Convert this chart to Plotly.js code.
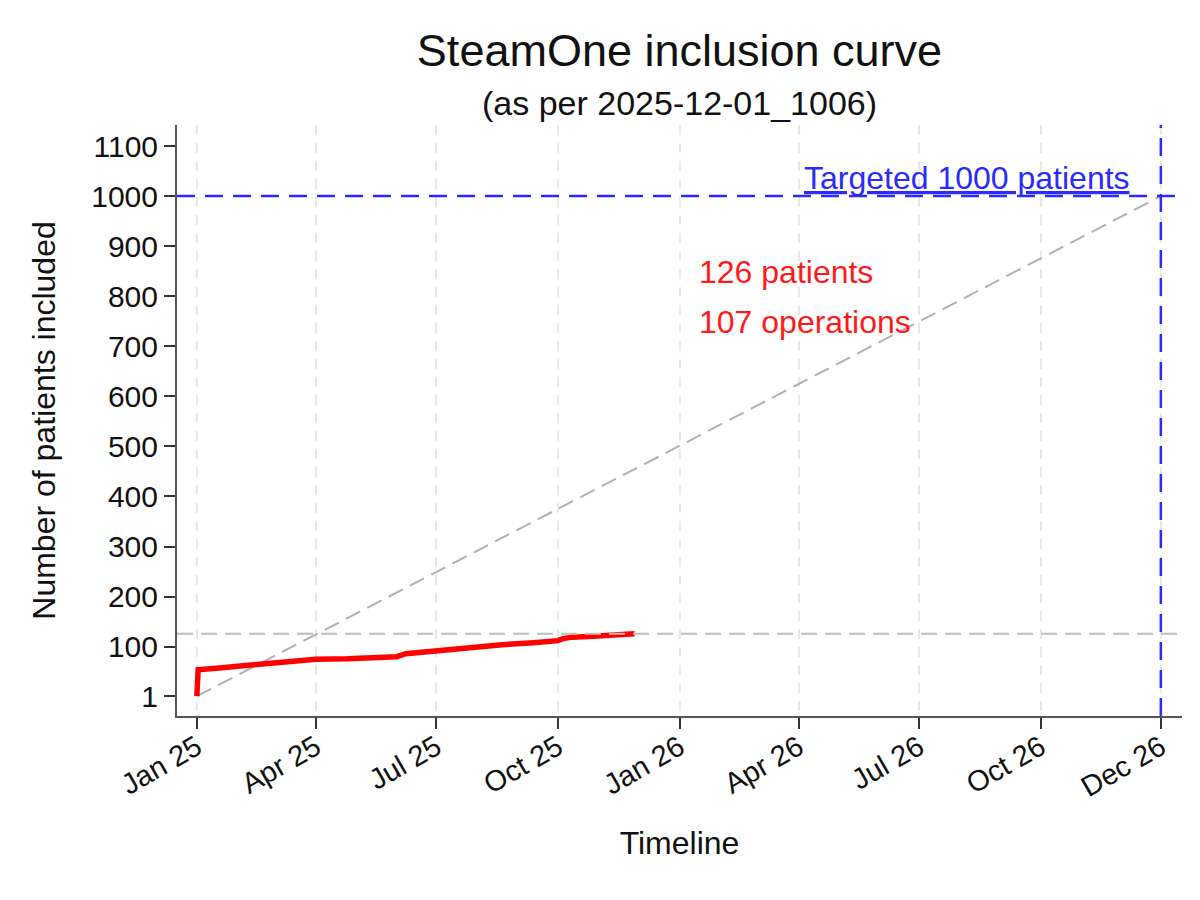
<!DOCTYPE html>
<html>
<head>
<meta charset="utf-8">
<script src="https://cdn.plot.ly/plotly-3.0.1.min.js"></script>
<style>
  body { margin: 0; background: #fff; }
  #chart { width: 1200px; height: 900px; }
</style>
</head>
<body>
<div id="chart"></div>
<script>
// cumulative inclusions
const inclusionDates = [
  '2025-01-01', '2025-01-02', '2025-01-20', '2025-02-11', '2025-03-05',
  '2025-03-18', '2025-04-01', '2025-04-25', '2025-05-15', '2025-06-01',
  '2025-06-08', '2025-06-20', '2025-06-30', '2025-07-15', '2025-07-30',
  '2025-08-20', '2025-09-13', '2025-10-01', '2025-10-05', '2025-10-12',
  '2025-10-28', '2025-11-12', '2025-11-28'
];
const inclusionCounts = [
  1, 54, 58, 64, 68,
  71, 75, 76, 77, 80,
  86, 89, 92, 97, 101,
  104, 108, 112, 116, 119,
  121, 123, 126
];

// target line: 1000 patients by end of 2026
const targetDates = ['2025-01-01', '2026-12-31'];
const targetCounts = [1, 1000];

const targetPatients = 1000;
const currentPatients = 126;
const operations = 107;
const endDate = '2026-12-31';

const xTickVals = ['2025-01-01', '2025-04-01', '2025-07-01', '2025-10-01', '2026-01-01',
                   '2026-04-01', '2026-07-01', '2026-10-01', '2026-12-31'];
const xTickText = ['Jan 25', 'Apr 25', 'Jul 25', 'Oct 25', 'Jan 26',
                   'Apr 26', 'Jul 26', 'Oct 26', 'Dec 26'];
const yTickVals = [1, 100, 200, 300, 400, 500, 600, 700, 800, 900, 1000, 1100];

const fontFamily = 'Liberation Sans, Arial, sans-serif';

const data = [
  {
    x: targetDates,
    y: targetCounts,
    type: 'scatter',
    mode: 'lines',
    line: { color: '#b0b0b0', width: 2, dash: '16px,8px' },
    hoverinfo: 'skip'
  },
  {
    x: inclusionDates,
    y: inclusionCounts,
    type: 'scatter',
    mode: 'lines',
    line: { color: '#ff0000', width: 5.5 },
    name: 'patients'
  }
];

const layout = {
  width: 1200,
  height: 900,
  paper_bgcolor: '#ffffff',
  plot_bgcolor: '#ffffff',
  showlegend: false,
  font: { family: fontFamily, color: '#111' },
  margin: { l: 177, r: 18, t: 125, b: 184 },
  title: {
    text: 'SteamOne inclusion curve',
    font: { size: 45, color: '#111' },
    x: 0.5, xref: 'paper',
    y: 0.944, yref: 'container', yanchor: 'middle'
  },
  xaxis: {
    type: 'date',
    range: ['2024-12-17', '2027-01-16'],
    tickvals: xTickVals,
    ticktext: xTickText,
    tickangle: -30,
    tickfont: { size: 29, color: '#111' },
    ticks: 'outside', ticklen: 11, tickwidth: 2, tickcolor: '#333',
    ticklabelstandoff: -10,
    showline: true, linecolor: '#555', linewidth: 2,
    showgrid: true, gridcolor: '#e8e8e8', gridwidth: 2, griddash: '10px,8px',
    zeroline: false,
    title: { text: 'Timeline', font: { size: 32, color: '#111' }, standoff: 30 }
  },
  yaxis: {
    range: [-38.5, 1142],
    tickvals: yTickVals,
    tickfont: { size: 30, color: '#111' },
    ticks: 'outside', ticklen: 11, tickwidth: 2, tickcolor: '#333',
    showline: true, linecolor: '#555', linewidth: 2,
    showgrid: false,
    zeroline: false,
    title: { text: 'Number of patients included', font: { size: 32, color: '#111' }, standoff: 26 }
  },
  shapes: [
    {
      type: 'line', xref: 'paper', x0: 0, x1: 1, yref: 'y', y0: currentPatients, y1: currentPatients,
      line: { color: '#bdbdbd', width: 2, dash: '16px,8px' }
    },
    {
      type: 'line', xref: 'paper', x0: 0, x1: 1, yref: 'y', y0: targetPatients, y1: targetPatients,
      line: { color: '#2a2aff', width: 2.5, dash: '18px,10px' }
    },
    {
      type: 'line', xref: 'x', x0: endDate, x1: endDate, yref: 'paper', y0: 0, y1: 1,
      line: { color: '#2a2aff', width: 2.5, dash: '18px,10px' }
    }
  ],
  annotations: [
    {
      x: 0.5, y: 1.037, xref: 'paper', yref: 'paper',
      xanchor: 'center', yanchor: 'middle', showarrow: false,
      text: '(as per 2025-12-01_1006)',
      font: { size: 34, color: '#111' }
    },
    {
      x: '2026-01-14', y: 848, xref: 'x', yref: 'y',
      xanchor: 'left', yanchor: 'middle', showarrow: false,
      text: currentPatients + ' patients',
      font: { size: 32, color: '#ff1a1a' }
    },
    {
      x: '2026-01-14', y: 748, xref: 'x', yref: 'y',
      xanchor: 'left', yanchor: 'middle', showarrow: false,
      text: operations + ' operations',
      font: { size: 32, color: '#ff1a1a' }
    },
    {
      x: '2026-04-04', y: targetPatients, xref: 'x', yref: 'y',
      xanchor: 'left', yanchor: 'bottom', showarrow: false, yshift: -2,
      text: '<u>Targeted ' + targetPatients + ' patients</u>',
      font: { size: 32, color: '#2a2aff' }
    }
  ]
};

Plotly.newPlot('chart', data, layout, { displayModeBar: false, staticPlot: true });
</script>
</body>
</html>
